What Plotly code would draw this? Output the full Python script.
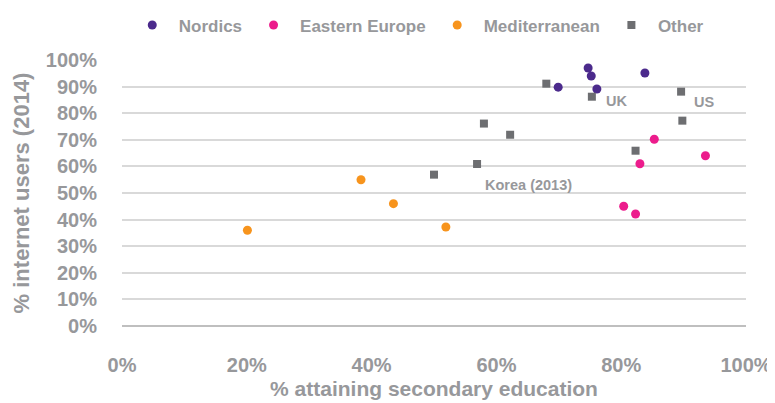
import plotly.graph_objects as go

# Data (fractions)
nordics_x = [0.747, 0.752, 0.761, 0.699, 0.838]
nordics_y = [0.970, 0.940, 0.891, 0.898, 0.951]

eastern_x = [0.853, 0.935, 0.830, 0.804, 0.823]
eastern_y = [0.702, 0.640, 0.610, 0.450, 0.421]

med_x = [0.519, 0.383, 0.435, 0.201]
med_y = [0.372, 0.550, 0.460, 0.360]

other_x = [0.680, 0.753, 0.896, 0.898, 0.580, 0.622, 0.823, 0.569, 0.500]
other_y = [0.911, 0.862, 0.881, 0.772, 0.761, 0.719, 0.659, 0.609, 0.569]

label_text = ["UK", "US", "Korea (2013)"]
label_x = [0.772, 0.913, 0.578]
label_y = [0.846, 0.842, 0.530]

FONT = "Liberation Sans, Arial, sans-serif"
GRAY = "#97989B"

fig = go.Figure()
fig.add_trace(go.Scatter(x=nordics_x, y=nordics_y, mode="markers", name="Nordics",
                         marker=dict(symbol="circle", size=9, color="#4B2A8C")))
fig.add_trace(go.Scatter(x=eastern_x, y=eastern_y, mode="markers", name="Eastern Europe",
                         marker=dict(symbol="circle", size=9, color="#EC1C8C")))
fig.add_trace(go.Scatter(x=med_x, y=med_y, mode="markers", name="Mediterranean",
                         marker=dict(symbol="circle", size=9, color="#F7941D")))
fig.add_trace(go.Scatter(x=other_x, y=other_y, mode="markers", name="Other",
                         marker=dict(symbol="square", size=8, color="#6D6E71")))

for t, x, y in zip(label_text, label_x, label_y):
    fig.add_annotation(x=x, y=y, text=t, showarrow=False, xanchor="left", yanchor="middle",
                       font=dict(family=FONT, size=14.5, color=GRAY, weight="bold"))

fig.update_layout(
    width=767, height=395,
    margin=dict(l=114, r=29, t=52, b=77, autoexpand=False),
    paper_bgcolor="white", plot_bgcolor="white",
    font=dict(family=FONT, color=GRAY, size=18, weight="bold"),
    legend=dict(orientation="h", x=0.006, xanchor="left", y=1.13, yanchor="middle",
                itemwidth=43,
                font=dict(family=FONT, size=17, color=GRAY, weight="bold"),
                itemclick=False),
    showlegend=True,
)
fig.update_xaxes(range=[0, 1], tickformat=".0%", dtick=0.2, showgrid=False, zeroline=False,
                 showline=False, ticks="", ticklabelstandoff=25,
                 tickfont=dict(family=FONT, size=20, color=GRAY, weight="bold"),
                 title=dict(text="% attaining secondary education", standoff=6,
                            font=dict(family=FONT, size=21, color=GRAY, weight="bold")))
fig.update_yaxes(range=[0, 1], tickformat=".0%", dtick=0.1, showgrid=True, gridcolor="#D9D9D9",
                 gridwidth=1.5, zeroline=True, zerolinecolor="#BFBFBF", zerolinewidth=2,
                 showline=False, ticks="", ticklabelstandoff=24,
                 tickfont=dict(family=FONT, size=20, color=GRAY, weight="bold"),
                 title=dict(text="% internet users (2014)", standoff=10,
                            font=dict(family=FONT, size=22, color=GRAY, weight="bold")))

fig.write_html("out.html")
